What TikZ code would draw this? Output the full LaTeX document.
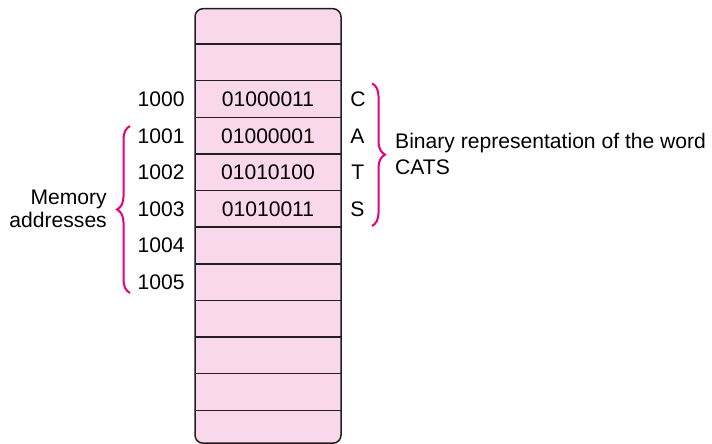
\documentclass[tikz,border=0pt]{standalone}
\usepackage{fontspec}
\setmainfont{Liberation Sans}
\usetikzlibrary{decorations.pathreplacing}
\definecolor{cellpink}{HTML}{F8D8EA}
\definecolor{edge}{HTML}{231F20}
\definecolor{brmag}{HTML}{E6007E}
\begin{document}
\begin{tikzpicture}[x=1pt,y=1pt,
  every node/.style={font=\fontsize{21.1}{23}\selectfont, text=black},
  cell/.style={minimum width=146pt, minimum height=36.62pt, inner sep=0pt},
  addr/.style={anchor=east, inner sep=0pt},
  letter/.style={anchor=west, inner sep=0pt},
  divider/.style={draw=edge, line width=1.5pt},
  bracestyle/.style={draw=brmag, line width=2pt, decorate,
    decoration={brace, amplitude=13pt, aspect=0.5}},
  ]
\useasboundingbox (0,0) rectangle (712,-444);
% outer box
\coordinate (tl) at (195,-8.7);
\coordinate (br) at (341,-443.2);
\fill[cellpink, rounded corners=8pt] (tl) rectangle (br);
% cells (rows 2..11 full height)
\foreach \i in {2,...,11} {
  \node[cell] (c\i) at (268,{-44.3-36.62*(\i-2)-18.31}) {};
}
\node[cell, minimum height=35.6pt] (c1) at (268,-26.5) {};
\node[cell, minimum height=32.6pt] (c12) at (268,-426.9) {};
% dividers
\foreach \i in {2,...,11} {
  \draw[divider] (c\i.north west) -- (c\i.north east);
}
\draw[divider] (c11.south west) -- (c11.south east);
\draw[edge, line width=1.5pt, rounded corners=8pt] (tl) rectangle (br);
% contents
\node at (c3) {01000011};
\node at (c4) {01000001};
\node at (c5) {01010100};
\node at (c6) {01010011};
% addresses
\node[addr] (a1000) at ([xshift=-10pt]c3.west) {1000};
\node[addr] (a1001) at ([xshift=-10pt]c4.west) {1001};
\node[addr] (a1002) at ([xshift=-10pt]c5.west) {1002};
\node[addr] (a1003) at ([xshift=-10pt]c6.west) {1003};
\node[addr] (a1004) at ([xshift=-10pt]c7.west) {1004};
\node[addr] (a1005) at ([xshift=-10pt]c8.west) {1005};
% letters
\node[letter] (lC) at ([xshift=9pt]c3.east) {C};
\node[letter] (lA) at ([xshift=9pt]c4.east) {A};
\node[letter] (lT) at ([xshift=10pt]c5.east) {T};
\node[letter] (lS) at ([xshift=9pt]c6.east) {S};
% braces
\coordinate (lbB) at (130,-293);
\coordinate (lbT) at (130,-126);
\draw[bracestyle] (lbB) -- (lbT);
\coordinate (rbT) at (372,-83.3);
\coordinate (rbB) at (372,-226);
\draw[bracestyle] (rbT) -- (rbB);
% labels (base anchor = baseline of the last line)
\node[anchor=base east, inner sep=0pt, align=right,
  font=\fontsize{21.1}{22.7}\selectfont] (mem) at (107,-227.6) {Memory\\addresses};
\node[anchor=base west, inner sep=0pt, align=left,
  font=\fontsize{21.1}{26}\selectfont] (bin) at (395,-174.4) {Binary representation of the word\\CATS};
\end{tikzpicture}
\end{document}
